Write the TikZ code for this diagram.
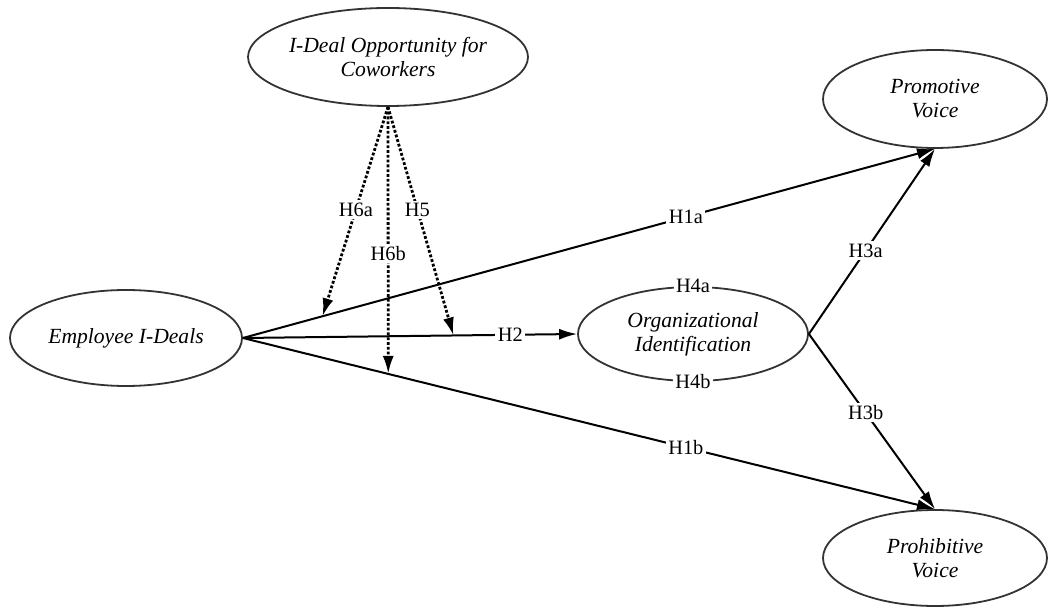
\documentclass[tikz,border=0pt]{standalone}
\usepackage{fontspec}
\setmainfont{Liberation Serif}
\usetikzlibrary{arrows.meta,shapes}
\tikzstyle{lv} = [ellipse, draw=black!80, line width=0.9pt, fill=white,
    align=center, inner sep=0pt, font=\fontsize{10.8}{12}\selectfont\itshape]
\tikzstyle{hyp} = [fill=white, inner sep=1.2pt, font=\fontsize{10.2}{12}\selectfont]
\tikzstyle{mod} = [line width=1.4pt, densely dotted]

\begin{document}
\begin{tikzpicture}[x=0.5pt,y=-0.5pt,->,>={Latex[length=9pt,width=5.5pt]},
                    line width=1pt]
  \useasboundingbox (0,0) rectangle (1048,608);

  \node[lv, minimum width=116pt, minimum height=48pt] (emp) at (126,338) {Employee I-Deals};
  \node[lv, minimum width=116pt, minimum height=49pt] (opp) at (388,57) {I-Deal Opportunity for\\Coworkers};
  \node[lv, minimum width=115pt, minimum height=47pt] (org) at (693,334) {Organizational\\Identification};
  \node[lv, minimum width=112pt, minimum height=49pt] (pv)  at (935,99)  {Promotive\\Voice};
  \node[lv, minimum width=112pt, minimum height=48pt] (pb)  at (935,558) {Prohibitive\\Voice};

  \node[hyp] at (org.north) {H4a};
  \node[hyp] at (org.south) {H4b};

  \path (emp.east) edge coordinate[pos=0.115] (m1) node[hyp,pos=0.64] {H1a} (pv.south)
        (emp.east) edge coordinate[pos=0.63] (m2) node[hyp,pos=0.8] {H2} (org.west)
        (emp.east) edge coordinate[pos=0.21] (m3) node[hyp,pos=0.64] {H1b} (pb.north)
        (org.east) edge node[hyp,pos=0.45] {H3a} (pv.south)
        (org.east) edge node[hyp,pos=0.45] {H3b} (pb.north);

  \path[mod] (opp.south) edge node[hyp,pos=0.49] {H6a} (m1)
             (opp.south) edge node[hyp,pos=0.55] {H6b} (m3)
             (opp.south) edge node[hyp,pos=0.45] {H5} (m2);
\end{tikzpicture}
\end{document}
